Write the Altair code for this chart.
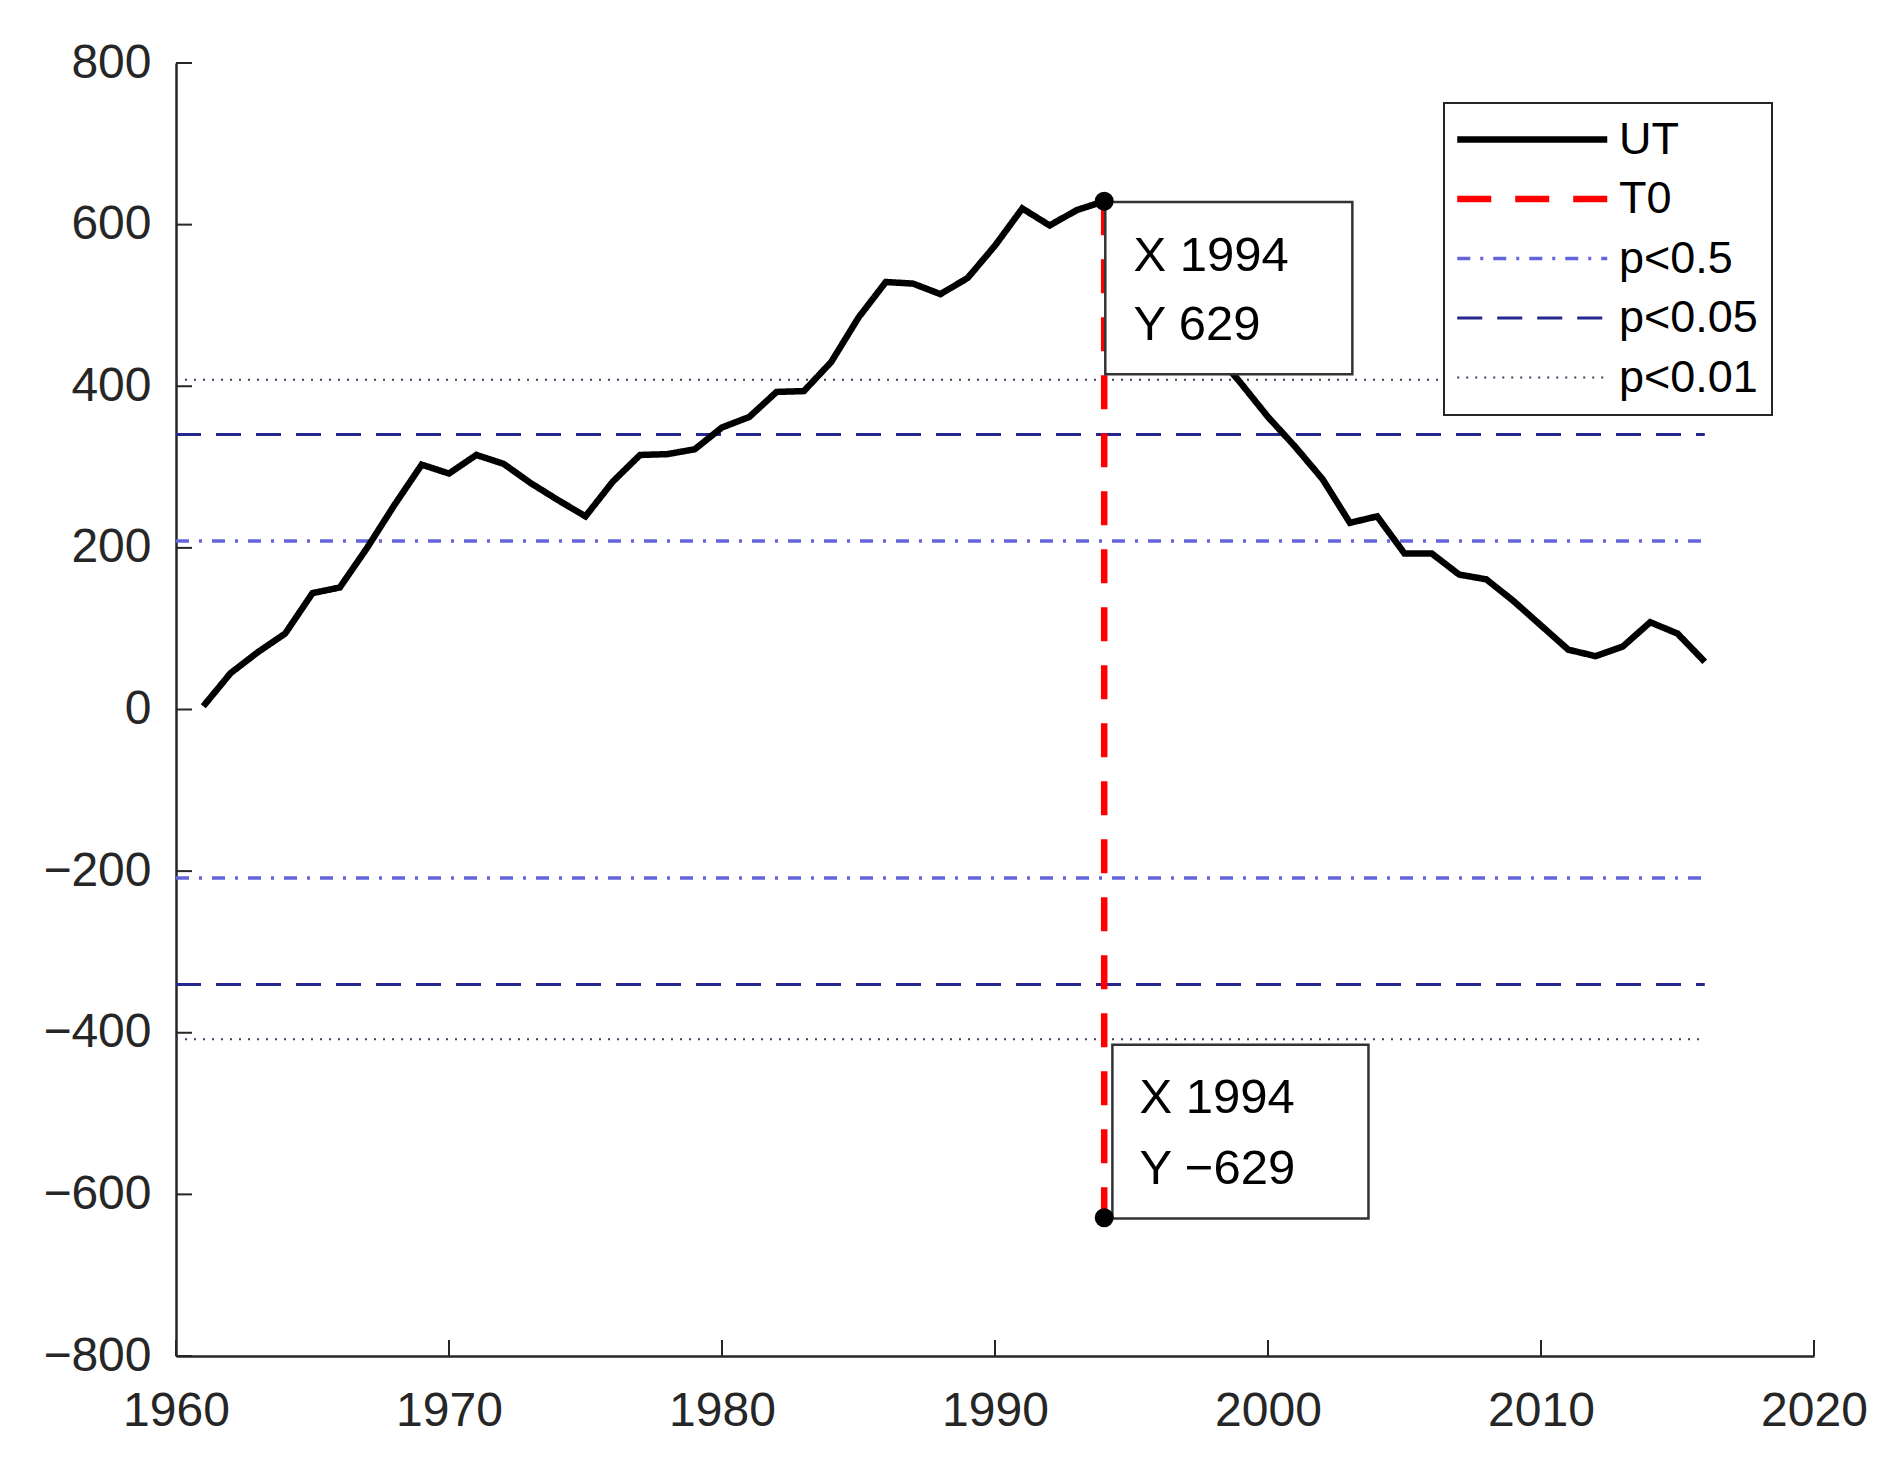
import altair as alt
import pandas as pd

# ---------------- data ----------------
years = list(range(1961, 2017))
ut = [4, 45, 71, 94, 144, 151, 200, 253, 303, 292,
      315, 304, 280, 259, 239, 282, 315, 316, 322, 349,
      362, 393, 394, 430, 485, 529, 527, 514, 534, 574,
      620, 599, 618, 629, 605, 560, 500, 444, 404, 362,
      325, 285, 231, 239, 193, 193, 167, 161, 134, 104,
      74, 66, 78, 108, 94, 59]

t0_year = 1994
t0_value = 629

thr_names = ["p<0.5", "p<0.05", "p<0.01"]
thr_values = [208.6, 340.4, 407.9]
thr_start = 1960
thr_end = 2016

series_order = ["UT", "T0", "p<0.5", "p<0.05", "p<0.01"]
series_colors = ["#000000", "#ff0000", "#6464dc", "#26268f", "#3c3c5c"]
series_dash = [[1, 0], [34, 24], [13, 10, 3, 10], [25, 15], [2, 7]]
series_width = [6.5, 6.5, 3.5, 3, 2]

x_ticks = list(range(1960, 2021, 10))
y_ticks = list(range(-800, 801, 200))

# data tips
tip_x = [1994, 1994]
tip_y = [629, -629]
box_x1 = [1994.04, 1994.30]
box_x2 = [2003.09, 2003.68]
box_y1 = [628, -414.8]
box_y2 = [415, -630]
text_x = [1995.07, 1995.07, 1995.29, 1995.29]
text_y = [542.7, 457.3, -498.9, -586.7]
text_label = ["X 1994", "Y 629", "X 1994", "Y \u2212629"]

# ---------------- frames ----------------
df_ut = pd.DataFrame({"year": years, "value": ut, "series": "UT"})
df_t0 = pd.DataFrame({"year": [t0_year, t0_year], "value": [t0_value, -t0_value],
                      "series": "T0"})
rows = []
for name, v in zip(thr_names, thr_values):
    for sgn, tag in [(1, "pos"), (-1, "neg")]:
        rows.append({"year": thr_start, "value": sgn * v, "series": name, "seg": name + tag})
        rows.append({"year": thr_end, "value": sgn * v, "series": name, "seg": name + tag})
df_thr = pd.DataFrame(rows)
df_tip = pd.DataFrame({"year": tip_x, "value": tip_y})
df_box = pd.DataFrame({"bx1": box_x1, "bx2": box_x2, "by1": box_y1, "by2": box_y2})
df_txt = pd.DataFrame({"tx": text_x, "ty": text_y, "label": text_label})
df_xt = pd.DataFrame({"t": x_ticks})
df_yt = pd.DataFrame({"t": y_ticks})

W, H = 1638, 1293
FONT = "Liberation Sans"
AX = "#262626"

xscale = alt.Scale(domain=[1960, 2020], nice=False, zero=False)
yscale = alt.Scale(domain=[-800, 800], nice=False)
xaxis = alt.Axis(values=x_ticks, title=None, ticks=False, grid=False, labelFlush=False,
                 labelOverlap=False, labelPadding=31, format="d")
yaxis = alt.Axis(values=y_ticks, title=None, ticks=False, grid=False, labelFlush=False,
                 labelOverlap=False, labelPadding=25)

leg = alt.Legend(title=None, orient="none", legendX=1268, legendY=40,
                 symbolType="M-1.55,0H8.45", symbolSize=900, labelOffset=116,
                 rowPadding=13.5, padding=14)

color = alt.Color("series:N", scale=alt.Scale(domain=series_order, range=series_colors), legend=leg)
dash = alt.StrokeDash("series:N", scale=alt.Scale(domain=series_order, range=series_dash), legend=leg)
swidth = alt.StrokeWidth("series:N", scale=alt.Scale(type="ordinal", domain=series_order,
                                                    range=series_width), legend=leg)

X = alt.X("year:Q", scale=xscale, axis=xaxis)
Y = alt.Y("value:Q", scale=yscale, axis=yaxis)

thr = alt.Chart(df_thr).mark_line().encode(x=X, y=Y, color=color, strokeDash=dash,
                                           strokeWidth=swidth, detail="seg:N")
utl = alt.Chart(df_ut).mark_line().encode(x=X, y=Y, color=color, strokeDash=dash,
                                          strokeWidth=swidth)
t0l = alt.Chart(df_t0).mark_line().encode(x=X, y=Y, color=color, strokeDash=dash,
                                          strokeWidth=swidth)

boxes = alt.Chart(df_box).mark_rect(fill="white", stroke="#333333", strokeWidth=2.5).encode(
    x=alt.X("bx1:Q", scale=xscale, axis=xaxis), x2="bx2:Q",
    y=alt.Y("by1:Q", scale=yscale, axis=yaxis), y2="by2:Q")

texts = alt.Chart(df_txt).mark_text(align="left", baseline="alphabetic", fontSize=49,
                                    font=FONT, color="black").encode(
    x=alt.X("tx:Q", scale=xscale, axis=xaxis),
    y=alt.Y("ty:Q", scale=yscale, axis=yaxis),
    text="label:N")

dots = alt.Chart(df_tip).mark_circle(size=360, color="black", opacity=1).encode(x=X, y=Y)

xt = alt.Chart(df_xt).mark_rule(color=AX, strokeWidth=2).encode(
    x=alt.X("t:Q", scale=xscale, axis=xaxis), y=alt.value(H), y2=alt.value(H - 16))
yt = alt.Chart(df_yt).mark_rule(color=AX, strokeWidth=2).encode(
    y=alt.Y("t:Q", scale=yscale, axis=yaxis), x=alt.value(0), x2=alt.value(16))

chart = alt.layer(thr, utl, t0l, boxes, texts, dots, xt, yt).properties(
    width=W, height=H,
    autosize=alt.AutoSizeParams(type="none"),
    padding={"left": 168, "top": 55, "right": 77, "bottom": 120},
    background="white",
).configure_view(stroke=None).configure_axis(
    labelFont=FONT, labelFontSize=48, labelColor=AX, domainColor=AX, domainWidth=2.5
).configure_legend(
    labelFont=FONT, labelFontSize=45, labelColor="black", strokeColor="#262626",
    fillColor="white", strokeWidth=2
)

chart.save("out.html", embed_options={"renderer": "svg", "actions": False})
